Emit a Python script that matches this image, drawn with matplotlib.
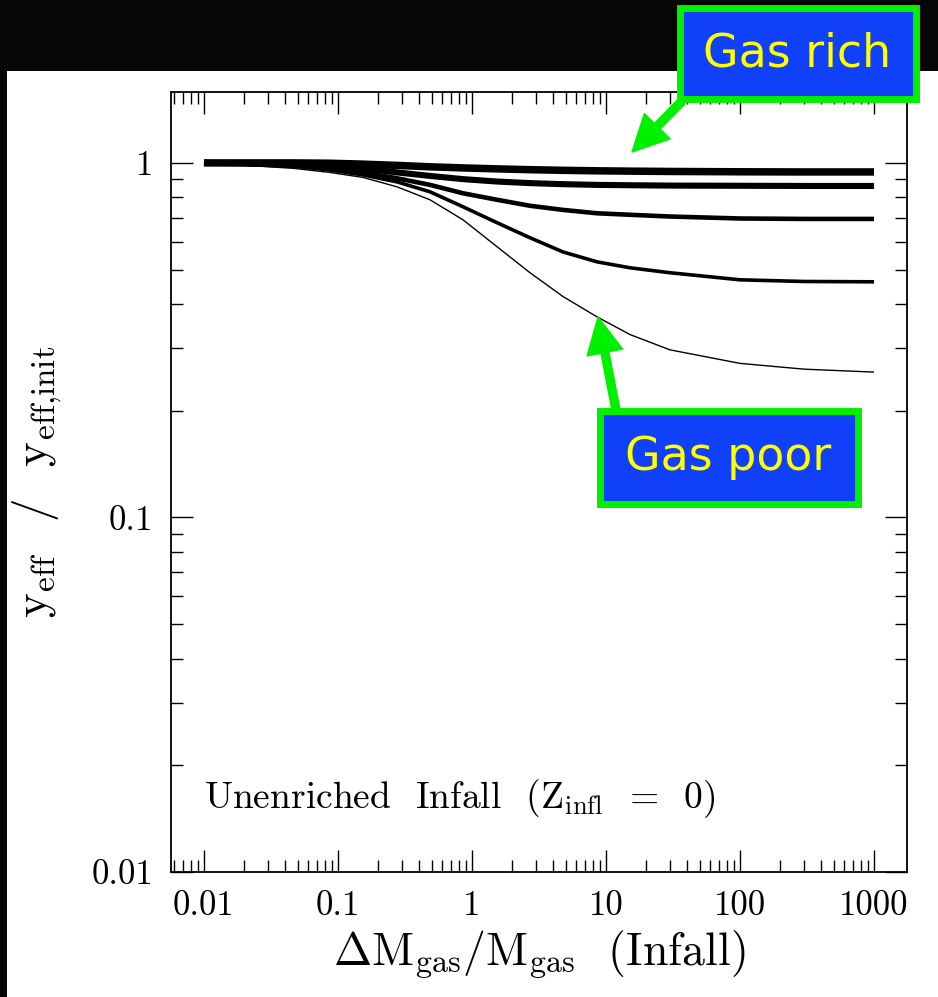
import numpy as np
import matplotlib
matplotlib.use("Agg")
import matplotlib.pyplot as plt
from matplotlib.patches import Rectangle, FancyArrowPatch, ArrowStyle
from matplotlib.ticker import NullFormatter

# infall mass ratio (x) and y_eff / y_eff,init for each model, gas rich -> gas poor
infall = [0.01, 0.02, 0.047, 0.087, 0.154, 0.276, 0.486, 0.857, 1.54, 2.71, 4.77, 8.56, 15.1, 30, 100, 300, 1000]
yeff_1 = [1.0, 1.0, 1.0, 0.998, 0.992, 0.984, 0.975, 0.968, 0.962, 0.957, 0.953, 0.95, 0.948, 0.946, 0.944, 0.943, 0.943]
yeff_2 = [1.0, 0.998, 0.993, 0.985, 0.965, 0.94, 0.919, 0.9, 0.886, 0.877, 0.871, 0.867, 0.865, 0.863, 0.862, 0.861, 0.861]
yeff_3 = [1.0, 0.995, 0.985, 0.968, 0.939, 0.905, 0.867, 0.821, 0.787, 0.757, 0.737, 0.721, 0.714, 0.706, 0.697, 0.695, 0.695]
yeff_4 = [1.0, 0.99, 0.978, 0.955, 0.925, 0.884, 0.829, 0.752, 0.678, 0.615, 0.561, 0.526, 0.506, 0.49, 0.468, 0.463, 0.462]
yeff_5 = [1.0, 0.985, 0.965, 0.94, 0.91, 0.856, 0.787, 0.691, 0.58, 0.49, 0.42, 0.368, 0.328, 0.297, 0.272, 0.262, 0.257]
curves = [yeff_1, yeff_2, yeff_3, yeff_4, yeff_5]
widths = [5.4, 4.4, 3.3, 2.6, 1.0]

xtick_vals = [0.01, 0.1, 1, 10, 100, 1000]
xtick_labels = ["0.01", "0.1", "1", "10", "100", "1000"]
ytick_vals = [0.01, 0.1, 1]
ytick_labels = ["0.01", "0.1", "1"]

plt.rcParams['font.family'] = 'cmr10'
plt.rcParams['mathtext.fontset'] = 'cm'
plt.rcParams['axes.unicode_minus'] = False

W, H = 938, 997
fig = plt.figure(figsize=(W / 100, H / 100), dpi=100)
fig.patch.set_facecolor('white')

def fx(px):
    return px / W

def fy(py):
    return 1 - py / H

ax = fig.add_axes([fx(171), fy(872), fx(907) - fx(171), fy(92) - fy(872)])
ax.set_xscale('log')
ax.set_yscale('log')
ax.set_xlim(10 ** -2.246, 10 ** 3.246)
ax.set_ylim(0.01, 10 ** 0.2)

for yv, lw in zip(curves, widths):
    ax.plot(infall, yv, color='black', lw=lw, solid_capstyle='butt', solid_joinstyle='round')

ax.set_xticks(xtick_vals)
ax.set_xticklabels(xtick_labels)
ax.set_yticks(ytick_vals)
ax.set_yticklabels(ytick_labels)
ax.xaxis.set_minor_formatter(NullFormatter())
ax.yaxis.set_minor_formatter(NullFormatter())
ax.tick_params(which='both', direction='in', top=True, right=True, width=1.0, labelsize=25)
ax.tick_params(which='major', length=16, pad=13)
ax.tick_params(which='minor', length=8.5)
for s in ax.spines.values():
    s.set_linewidth(1.3)

ax.set_xlabel(r"$\Delta\mathrm{M}_{\mathrm{gas}}/\mathrm{M}_{\mathrm{gas}}$  (Infall)", fontsize=33)
ax.xaxis.set_label_coords(0.5, -0.072)
ax.set_ylabel(r"$\mathrm{y}_{\mathrm{eff}}$  /  $\mathrm{y}_{\mathrm{eff{,}init}}$", fontsize=34)
ax.yaxis.set_label_coords(-0.145, 0.5)

ax.text(0.045, 0.082, r"Unenriched  Infall  (Z$_{\mathrm{infl}}$  =  0)", transform=ax.transAxes,
        fontsize=27, ha='left', va='baseline')

# black frame pieces of the slide
fig.add_artist(Rectangle((0, fy(71)), 1, 71 / H, transform=fig.transFigure,
                         facecolor='#060606', edgecolor='none', zorder=5))
fig.add_artist(Rectangle((0, 0), fx(7), fy(71), transform=fig.transFigure,
                         facecolor='#060606', edgecolor='none', zorder=5))

blue = '#1040F8'
green = '#00F000'

def callout(x0, y0, x1, y1, label):
    fig.add_artist(Rectangle((fx(x0), fy(y1)), fx(x1) - fx(x0), fy(y0) - fy(y1),
                             transform=fig.transFigure, facecolor=blue, edgecolor=green,
                             linewidth=5, zorder=6))
    fig.text(fx((x0 + x1) / 2), fy((y0 + y1) / 2), label, color='#FFFF00', fontsize=33,
             family='DejaVu Sans', ha='center', va='center', zorder=7)

def arrow(xa, ya, xb, yb):
    fig.add_artist(FancyArrowPatch((fx(xa), fy(ya)), (fx(xb), fy(yb)), transform=fig.transFigure,
                                   arrowstyle=ArrowStyle.Simple(head_length=26, head_width=26, tail_width=5.8),
                                   color=green, shrinkA=0, shrinkB=0, mutation_scale=1, zorder=6))

callout(679.5, 8.5, 915.5, 99.5, "Gas rich")
callout(599.5, 411.5, 857.5, 504.5, "Gas poor")
arrow(682, 101, 632, 152)
arrow(616, 410, 598, 317)

fig.savefig("out.png", dpi=100)
